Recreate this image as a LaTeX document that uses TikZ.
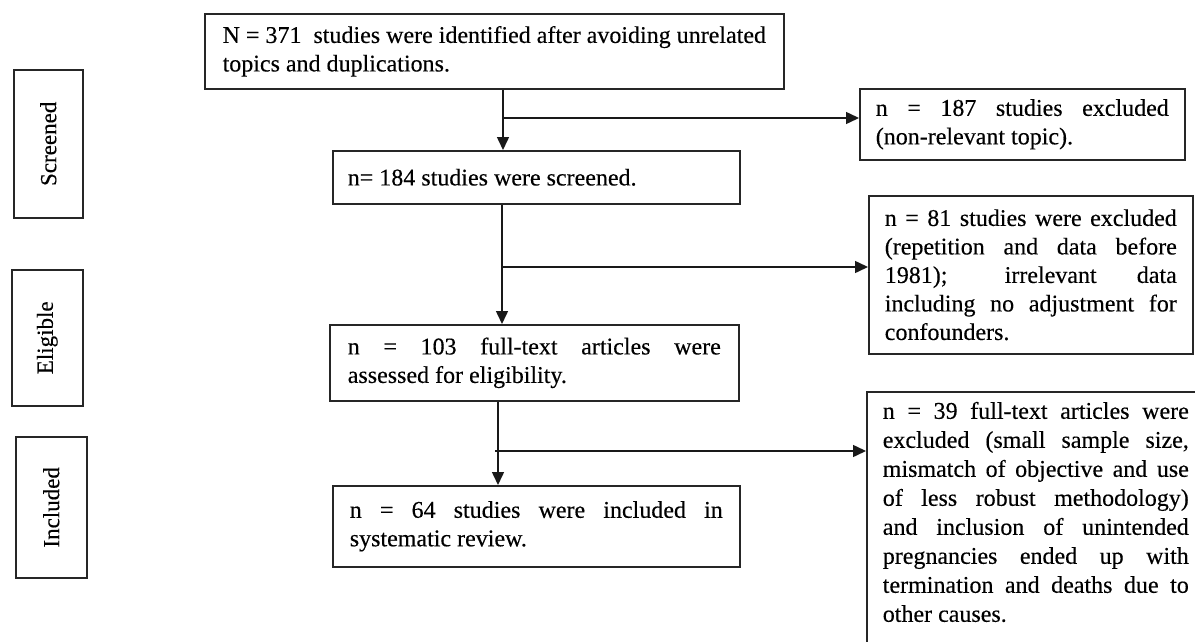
\documentclass[tikz,border=0pt]{standalone}
\usepackage{fontspec}
\setmainfont{Liberation Serif}[FakeBold=0.3]
\usetikzlibrary{arrows.meta}
\newcommand{\jline}[2]{\hbox to #1pt{\spaceskip=.25em plus 1fil\xspaceskip=\spaceskip\relax #2}}
\begin{document}
\begin{tikzpicture}[x=1pt,y=-1pt,
  box/.style={draw=black!85, line width=1.6pt, anchor=north west, inner ysep=0pt,
    align=justify, font=\fontsize{24}{28.5}\selectfont},
  side/.style={draw=black!85, line width=1.6pt, anchor=north west, inner sep=0pt,
    font=\fontsize{23}{27}\selectfont},
  arr/.style={line width=1.5pt, draw=black!90, -{Triangle[length=13pt,width=12pt]}}]
\clip (0,0) rectangle (1195,642);
\fill[white] (0,0) rectangle (1195,642);
% stage labels
\node[side, minimum width=69, minimum height=148] (scr) at (13,69) {\rotatebox{90}{Screened}};
\node[side, minimum width=71, minimum height=136] (eli) at (11,269) {\rotatebox{90}{Eligible}};
\node[side, minimum width=71, minimum height=141] (inc) at (15,436) {\rotatebox{90}{Included}};
% main column
\node[box, align=left, inner xsep=17pt, minimum width=579, minimum height=75] (top) at (204,13)
  {N = 371\ \ studies were identified after avoiding unrelated\\topics and duplications.};
\node[box, inner xsep=15pt, text width=377, minimum height=53] (b2) at (332,150)
  {n= 184 studies were screened.};
\node[box, inner xsep=18pt, text width=373, minimum height=76] (b3) at (329,324)
  {\jline{373}{n = 103 full-text articles were}\\assessed for eligibility.};
\node[box, inner xsep=17pt, text width=373, minimum height=81] (b4) at (332,485)
  {\jline{373}{n = 64 studies were included in}\\systematic review.};
% exclusion boxes
\node[box, inner xsep=16pt, text width=293, minimum height=71] (r1) at (859,88)
  {\jline{293}{n = 187 studies excluded}\\(non-relevant topic).};
\node[box, inner xsep=16pt, text width=292, minimum height=158] (r2) at (868,195)
  {\jline{292}{n = 81 studies were excluded}\\
   \jline{292}{(repetition and data before}\\
   \jline{292}{1981); irrelevant data}\\
   \jline{292}{including no adjustment for}\\
   confounders.};
\node[box, inner xsep=16pt, inner ysep=10pt, text width=306, font=\fontsize{24}{29}\selectfont] (r3) at (866,391)
  {\rule{0pt}{17pt}\jline{306}{n = 39 full-text articles were}\\
   \jline{306}{excluded (small sample size,}\\
   \jline{306}{mismatch of objective and use}\\
   \jline{306}{of less robust methodology)}\\
   \jline{306}{and inclusion of unintended}\\
   \jline{306}{pregnancies ended up with}\\
   \jline{306}{termination and deaths due to}\\
   other causes.\rule[-60pt]{0pt}{1pt}};
% connectors
\coordinate (c1) at (503,118);
\coordinate (c2) at (502,267);
\coordinate (c3) at (498,451);
\coordinate (c3s) at (495,451);
\draw[arr] (top.south -| c1) -- (b2.north -| c1);
\draw[arr] (c1) -- (r1.west |- c1);
\draw[arr] (b2.south -| c2) -- (b3.north -| c2);
\draw[arr] (c2) -- (r2.west |- c2);
\draw[arr] (b3.south -| c3) -- (b4.north -| c3);
\draw[arr] (c3s) -- (r3.west |- c3s);
\end{tikzpicture}
\end{document}
